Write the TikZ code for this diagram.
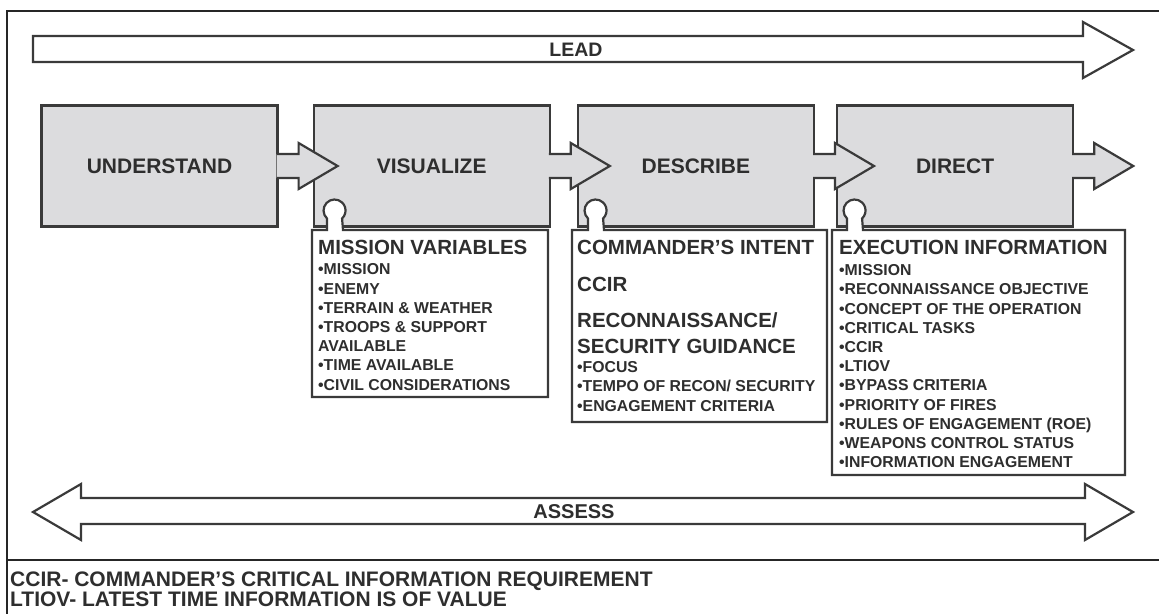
\documentclass[tikz,border=0pt]{standalone}
\usepackage{fontspec}
\setmainfont{Liberation Sans}
\usetikzlibrary{positioning, calc}
\definecolor{stageFill}{HTML}{DCDCDE}
\definecolor{lineCol}{HTML}{3A3A3A}
\definecolor{textCol}{HTML}{2E2E2E}
\tikzset{
    Stage/.style = {
        draw=lineCol,
        line width=2.2pt,
        fill=stageFill,
        minimum width=236pt,
        minimum height=121pt,
        inner sep=0pt,
        text=textCol,
        font=\fontsize{21}{24}\selectfont\bfseries
    },
    Tab/.style = {
        fill=stageFill,
        draw=lineCol,
        line width=2.2pt
    },
    Callout/.style = {
        fill=white,
        draw=lineCol,
        line width=2.2pt
    },
    Band/.style = {
        fill=white,
        draw=lineCol,
        line width=2.2pt
    },
    Frame/.style = {
        draw=black!85,
        line width=2.6pt
    }
}
\tikzset{
Head/.style={
  text=textCol,
  inner sep=0pt,
  align=left,
  font=\fontsize{20.5}{26}\selectfont\bfseries
  },
List/.style={
  text=textCol,
  inner sep=0pt,
  align=left,
  font=\fontsize{15.8}{19.2}\selectfont\bfseries
  }
}

\begin{document}
\begin{tikzpicture}[x=1pt, y=-1pt]
    \useasboundingbox (0,0) rectangle (1159,613);

    % frame
    \draw[Frame] (1162,11) -- (7,11) -- (7,616);
    \draw[Frame] (7,560) -- (1162,560);

    % lead
    \path[Band] (33,36) -- (1083,36) -- (1083,22) -- (1133,50) -- (1083,78)
        -- (1083,62) -- (33,62) -- cycle;
    \node[Head, font=\fontsize{19.5}{22}\selectfont\bfseries] (lead) at (576,50) {LEAD};

    % stages
    \node[Stage] (und) at (159.5,166) {UNDERSTAND};
    \node[Stage, right=34pt of und] (vis) {VISUALIZE};
    \node[Stage, right=26pt of vis] (des) {DESCRIBE};
    \node[Stage, right=21pt of des] (dir) {DIRECT};

    % tabs
    \path[Tab] ($(und.east)+(-2,-12)$) -- ++(22,0) -- ++(0,-11) -- ++(39,23)
        -- ++(-39,23) -- ++(0,-11) -- ++(-22,0);
    \path[Tab] ($(vis.east)+(-2,-12)$) -- ++(22,0) -- ++(0,-11) -- ++(39,23)
        -- ++(-39,23) -- ++(0,-11) -- ++(-22,0);
    \path[Tab] ($(des.east)+(-2,-12)$) -- ++(22,0) -- ++(0,-11) -- ++(39,23)
        -- ++(-39,23) -- ++(0,-11) -- ++(-22,0);
    \path[Tab] ($(dir.east)+(-2,-12)$) -- ++(22,0) -- ++(0,-11) -- ++(39,23)
        -- ++(-39,23) -- ++(0,-11) -- ++(-22,0);

    % mission variables
    \path[Callout] (312,230) -- (327,230) -- (327,218.5)
        arc[start angle=133.3, end angle=406.7, radius=11] -- (343,230)
        -- (548,230) -- (548,397) -- (312,397) -- cycle;
    \node[Head, anchor=base west] (mvHead) at (318,254.5) {MISSION VARIABLES};
    \node[List, anchor=north west] (mvList) at (318,263.7) {%
        •MISSION\\•ENEMY\\•TERRAIN \& WEATHER\\•TROOPS \& SUPPORT\\AVAILABLE\\%
        •TIME AVAILABLE\\•CIVIL CONSIDERATIONS};

    % commander's intent
    \path[Callout] (572,230) -- (588,230) -- (588,218.5)
        arc[start angle=133.3, end angle=406.7, radius=11] -- (604,230)
        -- (827,230) -- (827,422) -- (572,422) -- cycle;
    \node[Head, anchor=base west] (ciHead) at (577,254.5) {COMMANDER’S INTENT};
    \node[Head, anchor=base west] (ciCcir) at (577,291.5) {CCIR};
    \node[Head, anchor=north west] (ciGuide) at (577,312.8) {RECONNAISSANCE/\\SECURITY GUIDANCE};
    \node[List, anchor=north west] (ciList) at (577,361.4) {%
        •FOCUS\\•TEMPO OF RECON/ SECURITY\\•ENGAGEMENT CRITERIA};

    % execution information
    \path[Callout] (832,230) -- (847,230) -- (847,218.5)
        arc[start angle=133.3, end angle=406.7, radius=11] -- (863,230)
        -- (1125,230) -- (1125,475) -- (832,475) -- cycle;
    \node[Head, anchor=base west] (eiHead) at (839,254.5) {EXECUTION INFORMATION};
    \node[List, anchor=north west] (eiList) at (839,264.4) {%
        •MISSION\\•RECONNAISSANCE OBJECTIVE\\•CONCEPT OF THE OPERATION\\%
        •CRITICAL TASKS\\•CCIR\\•LTIOV\\•BYPASS CRITERIA\\•PRIORITY OF FIRES\\%
        •RULES OF ENGAGEMENT (ROE)\\•WEAPONS CONTROL STATUS\\•INFORMATION ENGAGEMENT};

    % assess
    \path[Band] (33,512) -- (81,484) -- (81,498) -- (1085,498) -- (1085,484)
        -- (1133,512) -- (1085,540) -- (1085,524) -- (81,524) -- (81,540) -- cycle;
    \node[Head, font=\fontsize{20}{22}\selectfont\bfseries] (assess) at (574,512) {ASSESS};

    % legend
    \node[Head, anchor=north west, font=\fontsize{21}{18}\selectfont\bfseries] (legend) at (10,572) {%
        CCIR- COMMANDER’S CRITICAL INFORMATION REQUIREMENT\\
        LTIOV- LATEST TIME INFORMATION IS OF VALUE};
\end{tikzpicture}
\end{document}
